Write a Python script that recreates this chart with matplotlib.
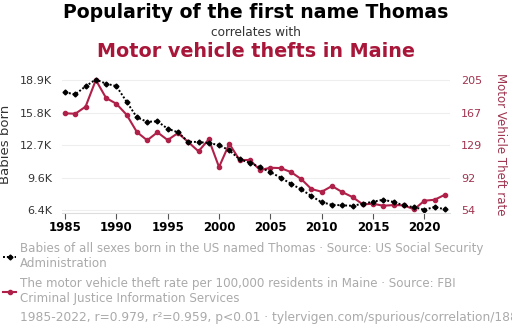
import matplotlib
matplotlib.use('Agg')
import matplotlib.pyplot as plt
import numpy as np
from matplotlib.ticker import FixedLocator, FuncFormatter

years = list(range(1985, 2023))

# babies named Thomas (US, all sexes)
thomas_births = [17720, 17530, 18300, 18950, 18550, 18320, 16820, 15320, 14900, 14940,
                 14230, 13890, 12990, 12960, 12860, 12670, 12160, 11300, 10970, 10530,
                 10080, 9540, 8960, 8420, 7780, 7180, 6950, 6890, 6850, 7040,
                 7240, 7430, 7210, 6890, 6700, 6470, 6730, 6510]

# motor vehicle thefts per 100,000 residents, Maine
theft_rate = [166.3, 165.8, 174.0, 205.0, 184.1, 177.4, 164.6, 144.5, 134.9, 144.2,
              135.2, 143.4, 132.9, 122.1, 136.0, 103.8, 130.9, 112.0, 112.0, 100.3,
              103.0, 102.6, 98.0, 89.9, 78.2, 75.1, 81.7, 74.7, 68.9, 60.4,
              61.1, 58.8, 59.6, 59.3, 54.6, 64.6, 65.8, 71.6]

x_ticks = [1985, 1990, 1995, 2000, 2005, 2010, 2015, 2020]
left_ticks = np.linspace(6440, 18900, 5)
right_ticks = np.linspace(53.8, 205, 5)

red = '#b0214a'
title_red = '#a8173a'
grey = '#aaaaaa'

fig = plt.figure(figsize=(5.12, 3.35), dpi=100)
ax = fig.add_axes([0.121, 0.364, 0.758, 0.412])
ax2 = ax.twinx()

# red series on the twin axis, black series drawn above it
ax2.plot(years, theft_rate, color=red, linewidth=1.5, marker='o', markersize=3,
         label='The motor vehicle theft rate per 100,000 residents in Maine · Source: FBI\nCriminal Justice Information Services')
ax.set_zorder(ax2.get_zorder() + 1)
ax.patch.set_visible(False)
ax.plot(years, thomas_births, color='black', linestyle=(0, (1, 1)), linewidth=1.4,
        marker='D', markersize=2.5,
        label='Babies of all sexes born in the US named Thomas · Source: US Social Security\nAdministration')

ax.set_xlim(1984.7, 2022.5)
ax.set_ylim(6150, 19380)
ax2.set_ylim(50.3, 210.8)

ax.set_xticks(x_ticks)
ax.set_xticklabels([str(y) for y in x_ticks], fontweight='bold', fontsize=8.5)
ax.yaxis.set_major_locator(FixedLocator(left_ticks))
ax.yaxis.set_major_formatter(FuncFormatter(lambda v, p: '%.1fK' % (v / 1000)))
ax2.yaxis.set_major_locator(FixedLocator(right_ticks))
ax2.yaxis.set_major_formatter(FuncFormatter(lambda v, p: '%d' % round(v)))

ax2.grid(axis='y', color='#eeeeee', linewidth=0.8)
ax2.set_axisbelow(True)
for a in (ax, ax2):
    for s in a.spines.values():
        s.set_visible(False)
ax.spines['bottom'].set_visible(True)
ax.spines['bottom'].set_color('#dddddd')

ax.tick_params(axis='x', length=4, color='#555555', pad=2)
ax.tick_params(axis='y', length=0, labelsize=8, labelcolor='#333333', pad=7)
ax2.tick_params(axis='y', length=0, labelsize=8, labelcolor='#a0344f', pad=8)

ax.set_ylabel('Babies born', fontsize=9.5, color='#333333', labelpad=6)
ax2.set_ylabel('Motor Vehicle Theft rate', fontsize=8.5, color='#a0344f', rotation=270, labelpad=18)

fig.text(0.5, 0.964, 'Popularity of the first name Thomas', ha='center', va='center',
         fontsize=13.6, fontweight='bold', color='black')
fig.text(0.5, 0.903, 'correlates with', ha='center', va='center', fontsize=8.7, color='#333333')
fig.text(0.5, 0.845, 'Motor vehicle thefts in Maine', ha='center', va='center',
         fontsize=13.8, fontweight='bold', color=title_red)

h1, l1 = ax.get_legend_handles_labels()
h2, l2 = ax2.get_legend_handles_labels()
fig.legend(h1 + h2, l1 + l2, loc='upper left', bbox_to_anchor=(0.006, 0.277),
           frameon=False, fontsize=8.6, labelcolor=grey, handlelength=1.1,
           handletextpad=0.3, labelspacing=0.55, borderpad=0, borderaxespad=0)

fig.text(0.039, 0.053, '1985-2022, r=0.979, r²=0.959, p<0.01 · tylervigen.com/spurious/correlation/1882',
         fontsize=8.8, color=grey, va='center')

fig.savefig('out.png', dpi=100)
